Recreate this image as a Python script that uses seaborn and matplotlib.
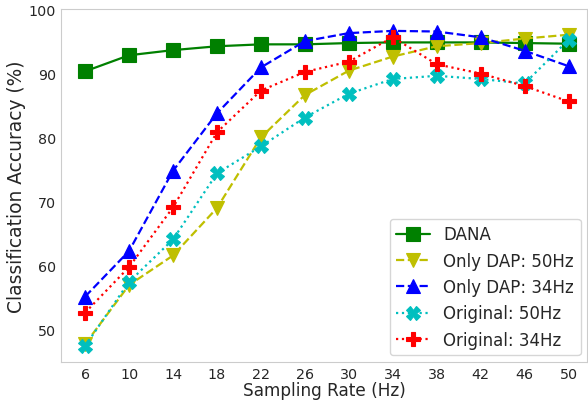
import matplotlib
matplotlib.use("Agg")
import matplotlib.pyplot as plt
import seaborn as sns
import pandas as pd

rates = [6, 10, 14, 18, 22, 26, 30, 34, 38, 42, 46, 50]
dana = [90.3, 92.8, 93.6, 94.2, 94.5, 94.5, 94.7, 94.8, 94.8, 94.8, 94.7, 94.6]
dap_50 = [47.8, 57.0, 61.6, 69.0, 80.0, 86.6, 90.4, 92.6, 94.2, 94.7, 95.4, 96.0]
dap_34 = [55.2, 62.3, 74.8, 83.75, 90.9, 95.0, 96.25, 96.6, 96.5, 95.6, 93.5, 91.1]
orig_50 = [47.5, 57.5, 64.1, 74.4, 78.6, 83.1, 86.8, 89.1, 89.6, 89.1, 88.4, 95.2]
orig_34 = [52.7, 59.8, 69.1, 80.8, 87.3, 90.2, 91.8, 95.6, 91.4, 89.95, 88.0, 85.6]

series = [
    ("DANA", dana, "g", "s", "-"),
    ("Only DAP: 50Hz", dap_50, "y", "v", "--"),
    ("Only DAP: 34Hz", dap_34, "b", "^", "--"),
    ("Original: 50Hz", orig_50, "c", "X", ":"),
    ("Original: 34Hz", orig_34, "r", "P", ":"),
]

sns.set_style("whitegrid")
plt.rcParams["font.family"] = ["DejaVu Sans"]

fig = plt.figure(figsize=(5.88, 4.02), dpi=100)
ax = fig.add_axes([0.1037, 0.097, 0.895, 0.878])

for name, vals, color, marker, ls in series:
    df = pd.DataFrame({"rate": rates, "acc": vals})
    sns.lineplot(data=df, x="rate", y="acc", ax=ax, color=color, marker=marker,
                 linestyle=ls, linewidth=1.6, markersize=10, markeredgewidth=0.8,
                 markeredgecolor=color, label=name)

ax.grid(False)
ax.set_xlim(3.8, 51.7)
ax.set_ylim(45, 100)
ax.set_xticks(rates)
ax.set_yticks([50, 60, 70, 80, 90, 100])
ax.tick_params(labelsize=10.3, length=2, color="#cccccc", pad=1.5)
ax.set_xlabel("Sampling Rate (Hz)", fontsize=12.2, labelpad=0)
ax.set_ylabel("Classification Accuracy (%)", fontsize=13.4, labelpad=2)
ax.legend(loc="lower right", fontsize=12, frameon=True, handlelength=2.0,
          borderaxespad=0.4)

fig.savefig("out.png", dpi=100)
